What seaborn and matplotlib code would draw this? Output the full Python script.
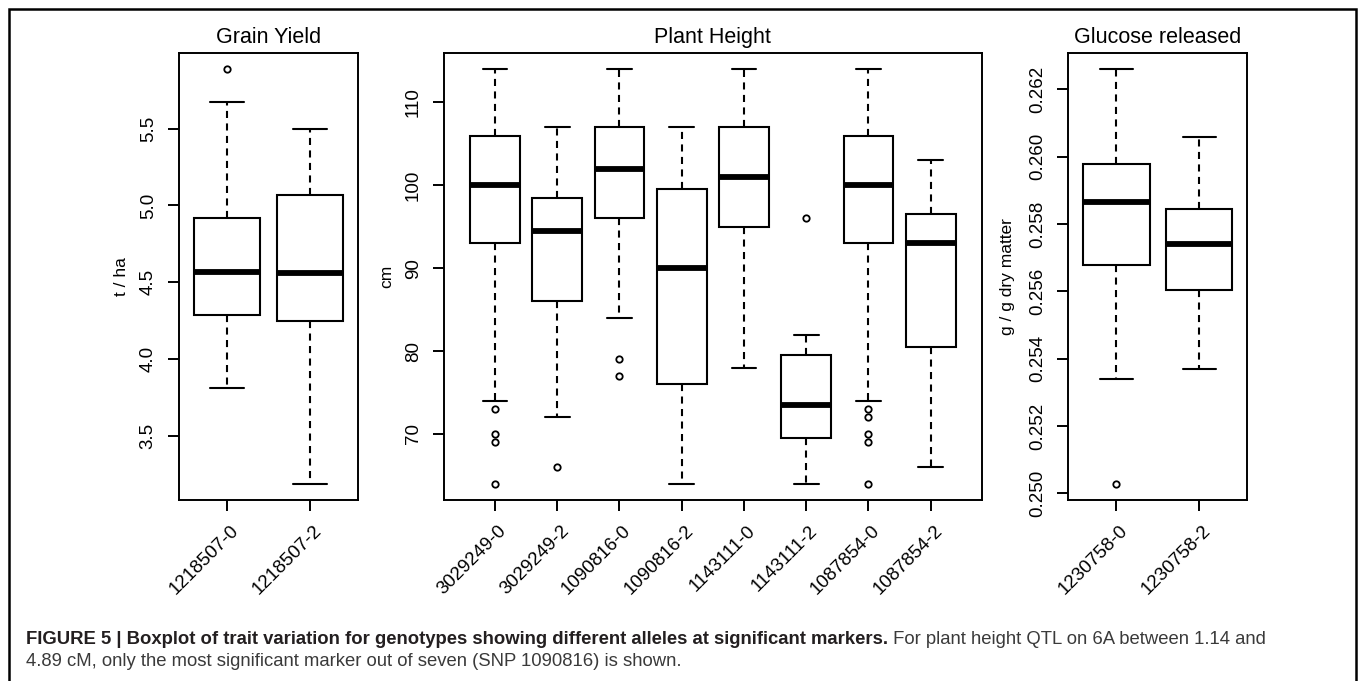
import matplotlib
matplotlib.use("Agg")
import matplotlib.pyplot as plt
import seaborn as sns
import pandas as pd
from matplotlib.patches import Rectangle
from matplotlib.transforms import ScaledTranslation

# ---------------- data ----------------
gy_groups = ["1218507-0", "1218507-2"]
gy_lower_whisker = [3.81, 3.19]
gy_q1 = [4.29, 4.25]
gy_median = [4.565, 4.56]
gy_q3 = [4.92, 5.07]
gy_upper_whisker = [5.673, 5.496]
gy_outliers = [[5.886], []]

ph_groups = ["3029249-0", "3029249-2", "1090816-0", "1090816-2",
             "1143111-0", "1143111-2", "1087854-0", "1087854-2"]
ph_lower_whisker = [74, 72, 84, 64, 78, 64, 74, 66]
ph_q1 = [93, 86, 96, 76, 95, 69.5, 93, 80.5]
ph_median = [100, 94.5, 102, 90, 101, 73.5, 100, 93]
ph_q3 = [106, 98.5, 107, 99.5, 107, 79.5, 106, 96.5]
ph_upper_whisker = [114, 107, 114, 107, 114, 82, 114, 103]
ph_outliers = [[73, 70, 69, 64], [66], [79, 77], [], [], [96],
               [73, 72, 70, 69, 64], []]

gr_groups = ["1230758-0", "1230758-2"]
gr_lower_whisker = [0.2534, 0.2537]
gr_q1 = [0.2568, 0.25605]
gr_median = [0.25865, 0.25742]
gr_q3 = [0.2598, 0.25845]
gr_upper_whisker = [0.2626, 0.2606]
gr_outliers = [[0.25029], []]

gy_ticks = [3.5, 4.0, 4.5, 5.0, 5.5]
ph_ticks = [70, 80, 90, 100, 110]
gr_ticks = [0.250, 0.252, 0.254, 0.256, 0.258, 0.260, 0.262]

caption_bold = ("FIGURE 5 | Boxplot of trait variation for genotypes showing "
                "different alleles at significant markers.")
caption_rest1 = " For plant height QTL on 6A between 1.14 and"
caption_rest2 = ("4.89 cM, only the most significant marker out of seven "
                 "(SNP 1090816) is shown.")


def build_table(groups, lw, q1, med, q3, uw, outliers):
    """Long-form table whose five-number summary equals the values read."""
    rows = []
    for g, a, b, c, d, e, out in zip(groups, lw, q1, med, q3, uw, outliers):
        lo = sorted(v for v in out if v < b)
        hi = sorted(v for v in out if v > d)
        k = max(len(lo), len(hi)) + 1
        vals = (lo + [a] + [b] * (k - len(lo)) + [c] * k
                + [d] * (2 * k - 1 - len(hi)) + [e] + hi)
        rows += [(g, v) for v in vals]
    return pd.DataFrame(rows, columns=["group", "value"])


sns.set_style("ticks")
plt.rcParams.update({
    "font.family": ["Liberation Sans", "DejaVu Sans"],
    "axes.edgecolor": "black",
    "axes.linewidth": 1.4,
    "xtick.color": "black",
    "ytick.color": "black",
    "text.color": "black",
    "axes.labelcolor": "black",
})

W, H = 1358, 681
fig = plt.figure(figsize=(W / 100, H / 100), dpi=100)


def add_axes(left, right, top=52.7, bottom=500.3):
    return fig.add_axes([left / W, 1 - bottom / H, (right - left) / W,
                         (bottom - top) / H])


panels = [
    (add_axes(179, 358), build_table(gy_groups, gy_lower_whisker, gy_q1, gy_median,
                                     gy_q3, gy_upper_whisker, gy_outliers),
     gy_groups, "Grain Yield", "t / ha", gy_ticks, "{:.1f}", -49.5),
    (add_axes(444, 981.7), build_table(ph_groups, ph_lower_whisker, ph_q1, ph_median,
                                       ph_q3, ph_upper_whisker, ph_outliers),
     ph_groups, "Plant Height", "cm", ph_ticks, "{:.0f}", -50),
    (add_axes(1068.3, 1247.3), build_table(gr_groups, gr_lower_whisker, gr_q1, gr_median,
                                           gr_q3, gr_upper_whisker, gr_outliers),
     gr_groups, "Glucose released", "g / g dry matter", gr_ticks, "{:.3f}", -53),
]

for ax, df, groups, title, ylabel, yticks, fmt, lab_off in panels:
    n = len(groups)
    sns.boxplot(
        data=df, x="group", y="value", order=groups, ax=ax,
        color="white", saturation=1, linecolor="black", linewidth=1.5,
        width=0.8, whis=1.5,
        whiskerprops=dict(linestyle=(0, (3.4, 2.6)), linewidth=1.5),
        capprops=dict(linewidth=1.5),
        boxprops=dict(linewidth=1.5),
        medianprops=dict(linewidth=4.2, solid_capstyle="butt", color="black"),
        flierprops=dict(marker="o", markersize=4.6, markerfacecolor="none",
                        markeredgecolor="black", markeredgewidth=1.3),
    )
    lo = df["value"].min()
    hi = df["value"].max()
    ext = 0.04 * (hi - lo)
    ax.set_ylim(lo - ext, hi + ext)
    ax.set_xlim(-0.5 - 0.04 * n, n - 0.5 + 0.04 * n)
    ax.set_xlabel("")
    ax.set_yticks(yticks, labels=[fmt.format(t) for t in yticks],
                  rotation=90, va="center")
    ax.set_xticks(range(n), labels=groups, rotation=45, ha="right",
                  va="top", rotation_mode="anchor")
    ax.tick_params(axis="both", direction="out", length=8, width=1.4,
                   labelsize=13.5, top=False, right=False)
    ax.tick_params(axis="y", pad=8)
    ax.tick_params(axis="x", pad=7.6)
    for lab in ax.get_xticklabels():
        lab.set_transform(lab.get_transform()
                          + ScaledTranslation(3 / 100, 0, fig.dpi_scale_trans))
    for side in ["left", "right", "top", "bottom"]:
        ax.spines[side].set_visible(True)
        ax.spines[side].set_linewidth(1.4)
        ax.spines[side].set_color("black")
    ax.set_title(title, fontsize=15.5, pad=6.8)
    ax.set_ylabel(ylabel, fontsize=12.5)
    axw = ax.get_position().width * W
    ax.yaxis.set_label_coords(lab_off / axw, 0.5)
    ax.grid(False)

# outer frame
fig.add_artist(Rectangle((9 / W, -0.05), (1355.5 - 9) / W, 1 - 9 / H + 0.05,
                         transform=fig.transFigure, fill=False, lw=1.8,
                         ec="black", clip_on=False))

# caption
t1 = fig.text(26 / W, 1 - 644 / H, caption_bold, fontsize=13.35, fontweight="bold",
              color="#231f20", va="baseline", ha="left")
fig.canvas.draw()
bb = t1.get_window_extent()
fig.text(bb.x1 / W, 1 - 644 / H, caption_rest1, fontsize=13.35, color="#3a3a3a",
         va="baseline", ha="left")
fig.text(26 / W, 1 - 666 / H, caption_rest2, fontsize=13.35, color="#3a3a3a",
         va="baseline", ha="left")

fig.savefig("out.png", dpi=100)
